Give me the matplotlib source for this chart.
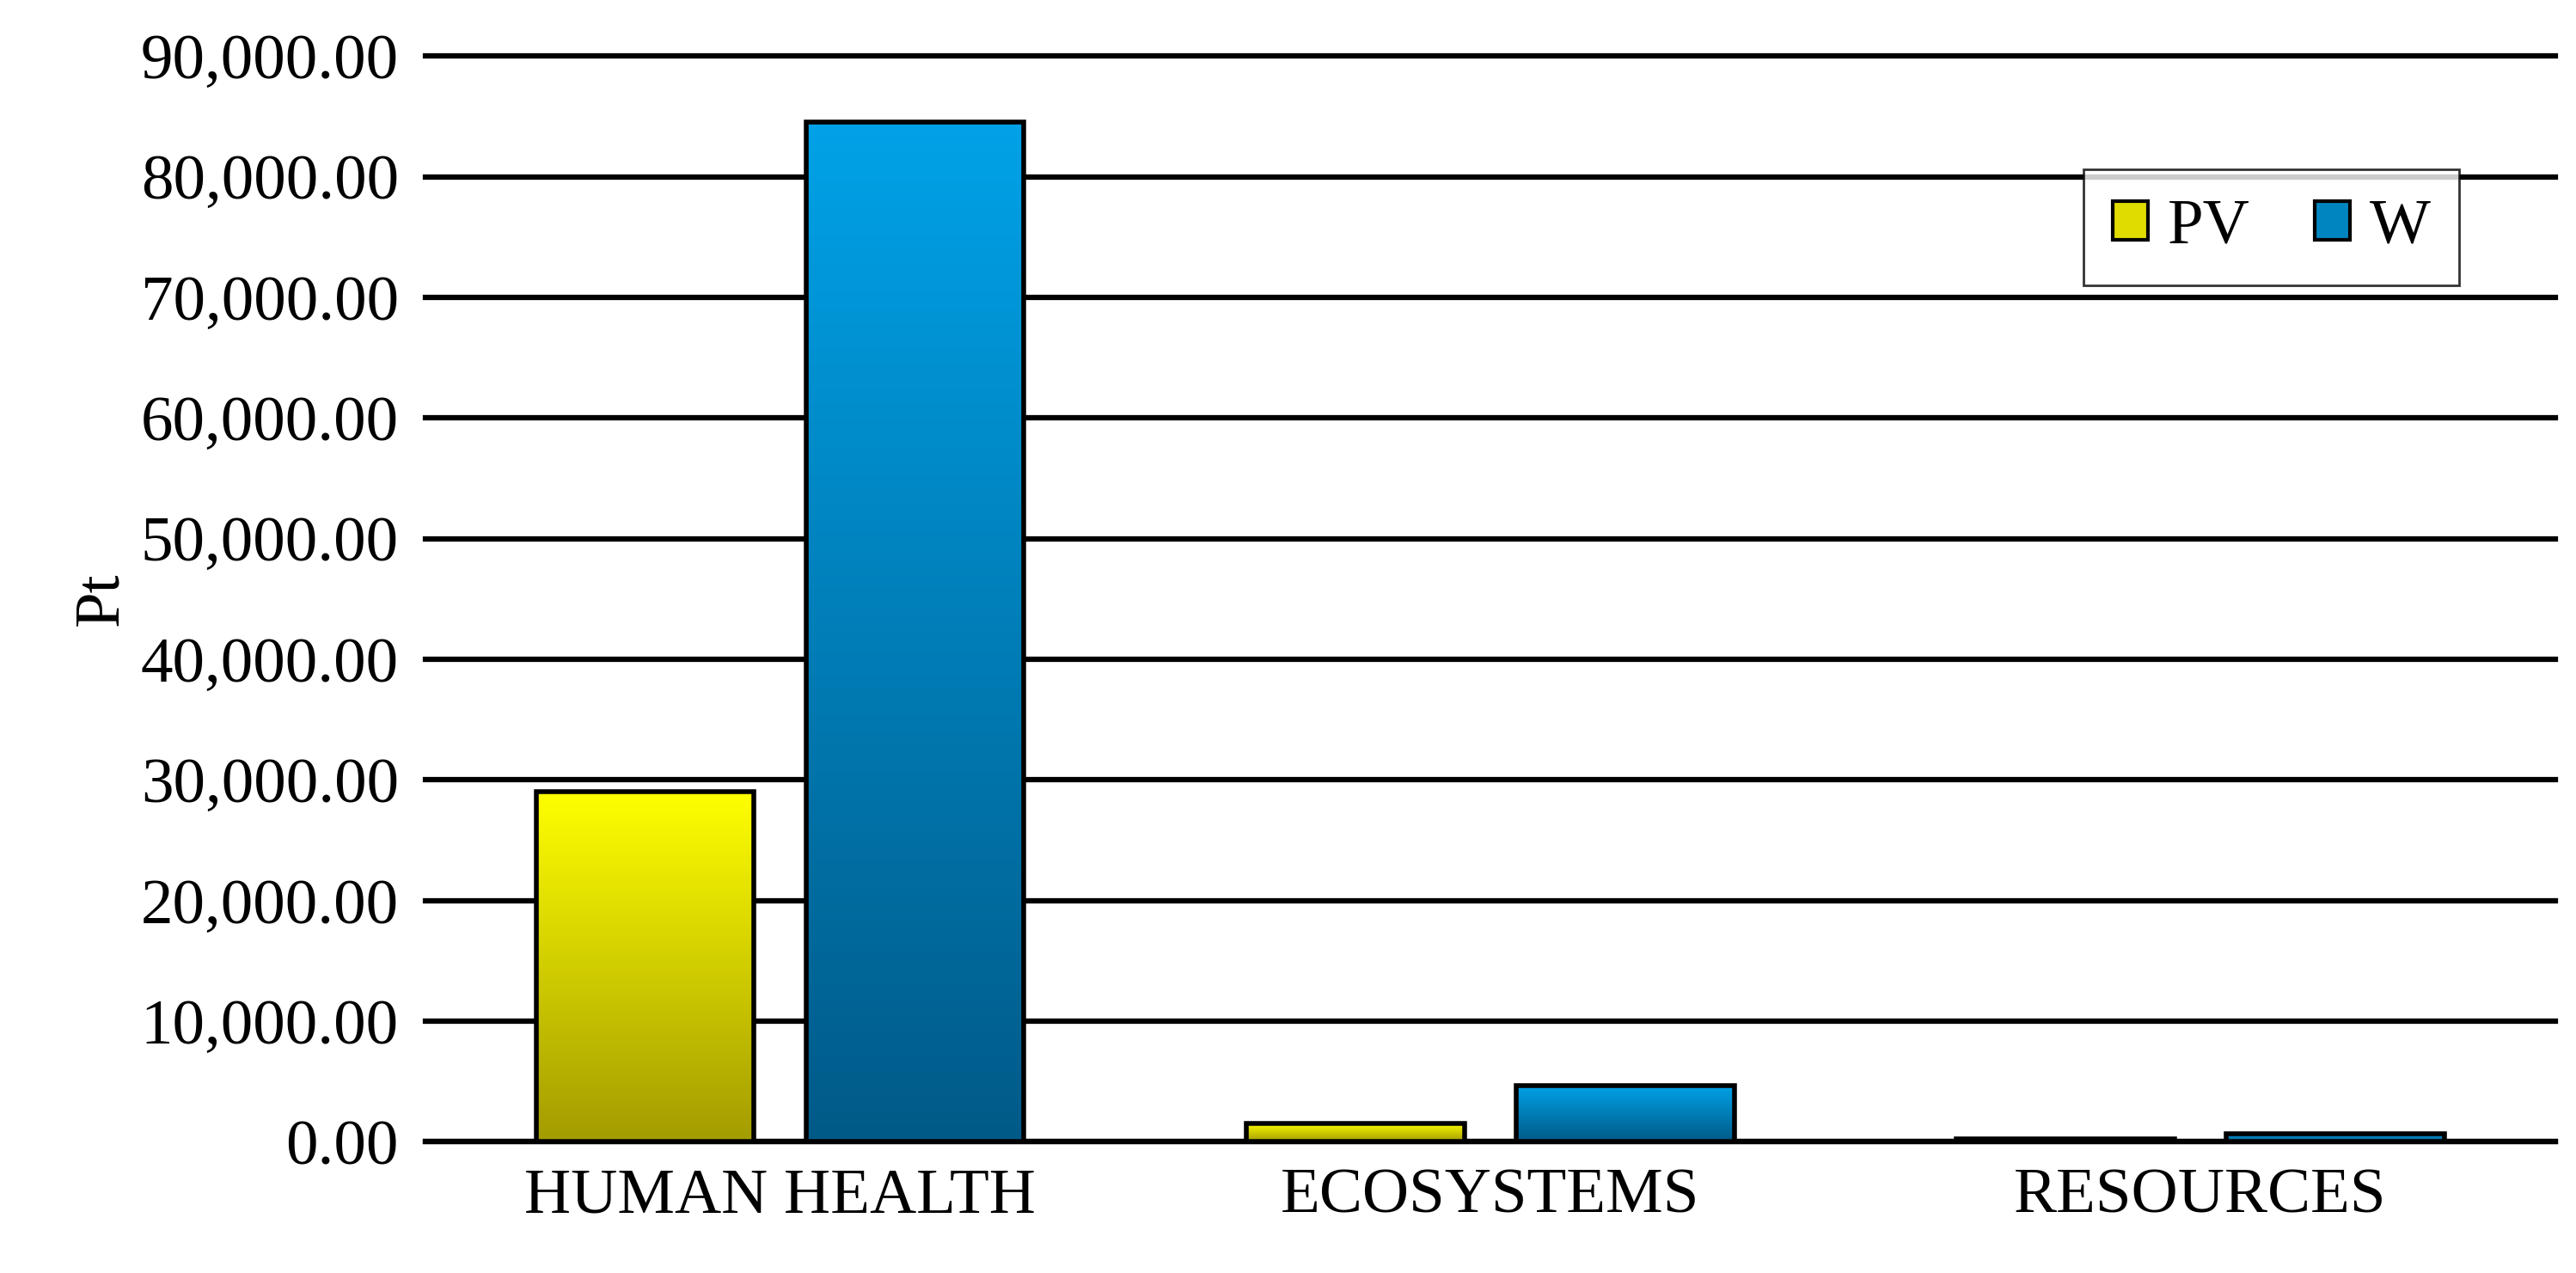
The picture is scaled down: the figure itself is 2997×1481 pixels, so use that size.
import matplotlib
matplotlib.use("Agg")
import matplotlib.pyplot as plt
import numpy as np
from matplotlib.colors import LinearSegmentedColormap
from matplotlib.patches import Patch

categories = ["HUMAN HEALTH", "ECOSYSTEMS", "RESOURCES"]
pv = [29000, 1500, 250]
w = [84500, 4650, 700]
yticks = np.arange(0, 90001, 10000)

plt.rcParams['font.family'] = ['Liberation Serif', 'DejaVu Serif']
fig = plt.figure(figsize=(29.97, 14.81), dpi=100)
ax = fig.add_axes([0.165, 0.103, 0.827, 0.853])

cm_pv = LinearSegmentedColormap.from_list("pv", ["#A39C00", "#FFFF00"])
cm_w = LinearSegmentedColormap.from_list("w", ["#005A88", "#00A2E8"])
grad = np.linspace(0, 1, 256).reshape(-1, 1)

x = np.arange(len(categories))
bw, off = 0.307, 0.19
for xs, vals, cmap in [(x - off, pv, cm_pv), (x + off, w, cm_w)]:
    bars = ax.bar(xs, vals, bw, facecolor="none", edgecolor="black", linewidth=4, zorder=4)
    for b in bars:
        x0, y0, bwid, h = b.get_x(), b.get_y(), b.get_width(), b.get_height()
        im = ax.imshow(grad, extent=[x0, x0 + bwid, y0, y0 + h], origin="lower",
                       aspect="auto", cmap=cmap, zorder=3)
        im.set_clip_path(b)

ax.set_xlim(-0.5, 2.5)
ax.set_ylim(0, 90000)
ax.set_yticks(yticks)
ax.set_yticklabels([f"{v:,.2f}" for v in yticks], fontsize=54)
ax.set_xticks(x)
ax.set_xticklabels(categories, fontsize=54)
ax.tick_params(length=0, pad=22)
ax.yaxis.grid(True, color="black", linewidth=4.5, zorder=0)
for gl in ax.get_ygridlines():
    gl.set_clip_on(False)
ax.set_axisbelow(True)
for s in ["top", "right", "left"]:
    ax.spines[s].set_visible(False)
ax.spines["bottom"].set_linewidth(4.5)
ax.set_ylabel("Pt", fontsize=54, labelpad=8)

handles = [Patch(facecolor="#E0DC00", edgecolor="black", linewidth=3, label="PV"),
           Patch(facecolor="#0085C0", edgecolor="black", linewidth=3, label="W")]
leg = ax.legend(handles=handles, loc="upper right", bbox_to_anchor=(0.97, 0.925), ncol=2,
                fontsize=54, frameon=True, fancybox=False, edgecolor="black",
                handlelength=0.55, handleheight=0.55, columnspacing=1.0, handletextpad=0.3,
                borderpad=0.45)
leg.get_frame().set_linewidth(2)
fig.savefig("out.png", dpi=100)
